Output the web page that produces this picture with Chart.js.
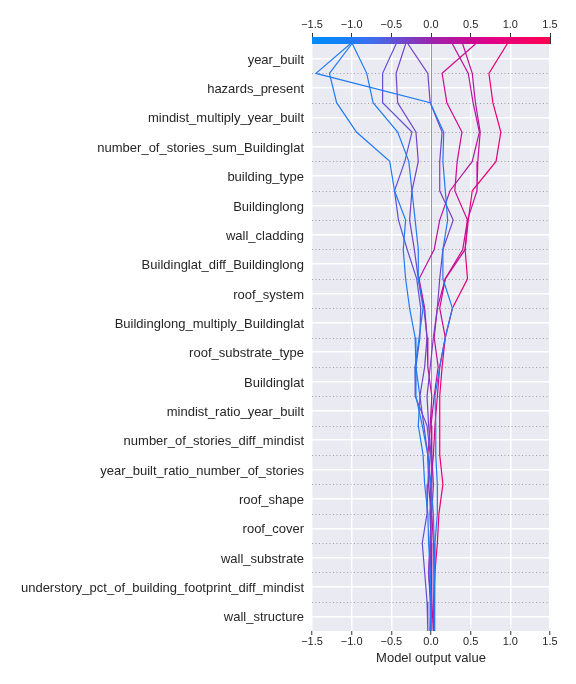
<!DOCTYPE html>
<html>
<head>
<meta charset="utf-8">
<script src="https://cdn.jsdelivr.net/npm/chart.js@4.4.0/dist/chart.umd.min.js"></script>
<style>
html,body{margin:0;padding:0;background:#fff;}
#wrap{width:576px;height:684px;}
</style>
</head>
<body>
<div id="wrap"><canvas id="c" width="576" height="684"></canvas></div>
<script>
// ---- data ----
const features = ["year_built","hazards_present","mindist_multiply_year_built","number_of_stories_sum_Buildinglat","building_type","Buildinglong","wall_cladding","Buildinglat_diff_Buildinglong","roof_system","Buildinglong_multiply_Buildinglat","roof_substrate_type","Buildinglat","mindist_ratio_year_built","number_of_stories_diff_mindist","year_built_ratio_number_of_stories","roof_shape","roof_cover","wall_substrate","understory_pct_of_building_footprint_diff_mindist","wall_structure"];
const xTicks = [-1.5, -1.0, -0.5, 0.0, 0.5, 1.0, 1.5];
const baseValue = 0.0;
// cumulative model output at each feature boundary, from top (final output) to bottom
const line1  = [-1.02,-1.45,-0.01,0.16,0.15,0.18,0.21,0.15,0.15,0.27,0.18,0.11,0.05,0.06,0.06,0.08,0.08,0.05,0.04,0.04,0.04];
const line2  = [-1.00,-1.28,-1.19,-0.94,-0.52,-0.46,-0.32,-0.35,-0.32,-0.27,-0.20,-0.19,-0.14,-0.16,-0.10,-0.08,-0.04,-0.03,-0.01,0.00,-0.01];
const line3  = [-0.99,-0.81,-0.73,-0.42,-0.28,-0.24,-0.20,-0.16,-0.16,-0.10,-0.15,-0.20,-0.19,-0.11,-0.04,0.00,0.03,0.04,0.04,0.05,0.05];
const line4  = [-0.44,-0.61,-0.61,-0.24,-0.33,-0.46,-0.41,-0.30,-0.18,-0.13,-0.14,-0.19,-0.20,-0.05,-0.01,-0.04,-0.05,-0.11,-0.08,-0.05,-0.04];
const line5  = [-0.32,-0.44,-0.42,-0.19,-0.16,-0.24,-0.27,-0.21,-0.16,-0.09,-0.05,-0.08,-0.14,-0.09,-0.04,-0.01,0.00,-0.01,-0.03,-0.01,-0.01];
const line6  = [-0.29,-0.04,-0.01,0.14,0.11,0.11,0.28,0.15,0.11,0.08,0.03,-0.01,-0.05,-0.03,0.00,0.01,-0.01,0.00,-0.01,0.00,0.00];
const line7  = [0.56,0.14,0.20,0.39,0.33,0.30,0.46,0.43,0.18,0.11,0.18,0.11,0.08,0.05,0.03,0.00,-0.01,0.00,0.01,0.01,0.03];
const line8  = [0.27,0.47,0.53,0.61,0.52,0.24,0.11,0.04,-0.15,-0.08,-0.05,-0.04,0.01,-0.01,-0.04,-0.03,0.00,-0.01,-0.03,0.00,-0.01];
const line9  = [0.40,0.52,0.56,0.62,0.59,0.58,0.46,0.40,0.18,0.08,0.04,0.09,0.04,0.00,0.01,0.03,0.01,0.03,0.04,0.04,0.04];
const line10 = [0.96,0.73,0.78,0.88,0.82,0.52,0.47,0.43,0.46,0.27,0.18,0.14,0.11,0.11,0.11,0.15,0.10,0.08,0.05,0.03,0.03];
const lines = [line1,line2,line3,line4,line5,line6,line7,line8,line9,line10];

// ---- colormap (shap red_blue approx) ----
const cmapStops = [[0,[0,139,251]],[0.125,[20,128,248]],[0.25,[60,110,238]],[0.5,[156,35,172]],[0.75,[224,0,134]],[1,[255,0,81]]];
function cmap(t){
  t = Math.max(0, Math.min(1, t));
  for (let i=0;i<cmapStops.length-1;i++){
    const [t0,c0]=cmapStops[i],[t1,c1]=cmapStops[i+1];
    if (t<=t1){
      const f=(t-t0)/(t1-t0);
      const c=c0.map((v,k)=>Math.round(v+(c1[k]-v)*f));
      return `rgb(${c[0]},${c[1]},${c[2]})`;
    }
  }
  return 'rgb(255,0,81)';
}
const xMin = xTicks[0], xMax = xTicks[xTicks.length-1];
const nF = features.length;

const datasets = lines.map(vals => ({
  data: vals.map((v,k)=>({x:v, y:nF-k})),
  borderColor: cmap((vals[0]-xMin)/(xMax-xMin)),
  borderWidth: 1.2,
  pointRadius: 0,
  showLine: true,
  fill: false,
  tension: 0
}));

const fmt = v => (v<0?'\u2212':'') + Math.abs(v).toFixed(1);

const decor = {
  id:'decor',
  beforeDraw(chart){
    const {ctx, chartArea:a} = chart;
    ctx.save();
    ctx.fillStyle = '#eaeaf2';
    ctx.fillRect(a.left, a.top, a.right-a.left, a.bottom-a.top);
    ctx.restore();
  },
  beforeDatasetsDraw(chart){
    const {ctx, chartArea:a, scales:{x,y}} = chart;
    ctx.save();
    ctx.strokeStyle = 'rgba(140,140,140,0.8)';
    ctx.lineWidth = 1;
    ctx.setLineDash([1,2.5]);
    for (let i=1;i<nF;i++){
      const py = Math.round(y.getPixelForValue(i))+0.5;
      ctx.beginPath(); ctx.moveTo(a.left,py); ctx.lineTo(a.right,py); ctx.stroke();
    }
    ctx.setLineDash([]);
    ctx.strokeStyle = '#999999';
    const px = Math.round(x.getPixelForValue(baseValue))+0.5;
    ctx.beginPath(); ctx.moveTo(px,a.top); ctx.lineTo(px,a.bottom); ctx.stroke();
    ctx.restore();
  },
  afterDraw(chart){
    const {ctx, chartArea:a, scales:{x}} = chart;
    const l = x.getPixelForValue(xMin), r = x.getPixelForValue(xMax);
    const g = ctx.createLinearGradient(l,0,r,0);
    cmapStops.forEach(([t,c])=>g.addColorStop(t,`rgb(${c[0]},${c[1]},${c[2]})`));
    ctx.save();
    ctx.fillStyle = g;
    ctx.fillRect(l, a.top-7, r-l, 7);
    ctx.restore();
  }
};

Chart.defaults.font.family = '"Liberation Sans", Arial, sans-serif';
Chart.defaults.color = '#262626';

new Chart(document.getElementById('c'), {
  type:'scatter',
  data:{datasets},
  options:{
    responsive:false,
    animation:false,
    events:[],
    layout:{padding:{left:0,right:26,top:0,bottom:0}},
    plugins:{legend:{display:false}, tooltip:{enabled:false}},
    scales:{
      x:{
        type:'linear', position:'bottom', min:xMin, max:xMax,
        afterBuildTicks: s => { s.ticks = xTicks.map(v=>({value:v})); },
        afterFit: s => { s.height = 53; },
        ticks:{callback: fmt, font:{size:11}, padding:0, maxRotation:0, color:'#262626'},
        grid:{color:'#ffffff', lineWidth:1.5, drawTicks:true, tickLength:4, tickColor:'#333333', tickWidth:1},
        border:{display:false},
        title:{display:true, text:'Model output value', font:{size:13}, color:'#262626', padding:{top:0,bottom:18}}
      },
      x2:{
        type:'linear', position:'top', min:xMin, max:xMax,
        afterBuildTicks: s => { s.ticks = xTicks.map(v=>({value:v})); },
        afterFit: s => { s.height = 44; },
        ticks:{callback: fmt, font:{size:11}, padding:1, maxRotation:0, color:'#262626'},
        grid:{drawOnChartArea:false, drawTicks:true, tickLength:11, tickColor:'#333333', tickWidth:1},
        border:{display:false}
      },
      y:{
        type:'linear', min:0, max:nF,
        afterBuildTicks: s => { s.ticks = features.map((f,i)=>({value:nF-0.5-i})); },
        afterFit: s => { s.width = 312; },
        ticks:{callback:(v,i)=>features[i], font:{size:13}, padding:8, color:'#262626', autoSkip:false, labelOffset:1.5},
        grid:{color:'#ffffff', lineWidth:1.5, drawTicks:false},
        border:{display:false}
      }
    }
  },
  plugins:[decor]
});
</script>
</body>
</html>
